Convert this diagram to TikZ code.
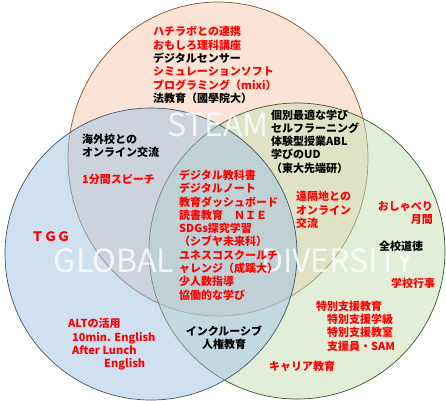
\documentclass[tikz,border=0pt]{standalone}
\usepackage{fontspec}
\setmainfont{Noto Sans CJK JP}
\definecolor{steamfill}{RGB}{247,200,172}
\definecolor{steamline}{RGB}{132,80,40}
\definecolor{globalfill}{RGB}{160,194,228}
\definecolor{globalline}{RGB}{68,84,106}
\definecolor{diverfill}{RGB}{196,224,180}
\definecolor{diverline}{RGB}{56,87,35}
\definecolor{jred}{RGB}{255,0,0}
\newcommand{\rd}[1]{\textcolor{jred}{#1}}

\begin{document}
\begin{tikzpicture}[x=1pt, y=-1pt,
    every node/.style={inner sep=0pt, font=\fontsize{11}{13.3}\selectfont\bfseries},
    mark text/.style={text=white, text opacity=0.8, font=\fontsize{32}{32}\selectfont}]
    \useasboundingbox (0,0) rectangle (446,400);

    % three circles
    \draw [fill=steamfill, fill opacity=0.5, draw=steamline, line width=0.7pt] (218,159) ellipse [x radius=150, y radius=157];
    \draw [fill=diverfill, fill opacity=0.5, draw=diverline, line width=0.7pt] (297,251) circle [radius=148];
    \draw [fill=globalfill, fill opacity=0.5, draw=globalline, line width=0.7pt] (151,254) circle [radius=146];

    % big faint titles
    \node (steam) [mark text] at (218,125) {STEAM};
    \node (global) [mark text] at (114,261) {GLOBAL};
    \node (diversity) [mark text, anchor=east] at (414,261) {DIVERSITY};

    % STEAM only
    \node (hachi) [anchor=west, align=left] at (153,65) {\rd{ハチラボとの連携}\\ \rd{おもしろ理科講座}\\ デジタルセンサー\\ \rd{シミュレーションソフト}\\ \rd{プログラミング（mixi）}\\ 法教育（國學院大）};

    % STEAM and GLOBAL
    \node (kaigai) [anchor=west, align=left] at (82,159.5) {海外校との\\ オンライン交流\\ \\ \rd{1分間スピーチ}};

    % STEAM and DIVERSITY
    \node (kobetsu) [anchor=west, align=left] at (271,141.5) {個別最適な学び\\ セルフラーニング\\ 体験型授業ABL\\ 学びのUD\\ （東大先端研）};
    \node (enkaku) [anchor=west, align=left, text=jred] at (296,210) {遠隔地との\\ オンライン\\ 交流};

    % all three
    \node (digital) [anchor=west, align=left, text=jred] at (179,235) {デジタル教科書\\ デジタルノート\\ 教育ダッシュボード\\ 読書教育　ＮＩＥ\\ SDGs探究学習\\ （シブヤ未来科）\\ ユネスコスクールチ\\ ャレンジ（成蹊大）\\ 少人数指導\\ 協働的な学び};

    % GLOBAL only
    \node (tgg) [anchor=west, text=jred, font=\fontsize{13}{15}\selectfont\bfseries] at (31,237) {ＴＧＧ};
    \node (alt) [anchor=west, align=left, text=jred] at (68,344.5) {ALTの活用\\ \hspace*{4pt}10min. English\\ \hspace*{4pt}After Lunch\\ \hspace*{36pt}English};

    % GLOBAL and DIVERSITY
    \node (incl) [align=center] at (224,338) {インクルーシブ\\ 人権教育};

    % DIVERSITY only
    \node (oshaberi) [anchor=east, align=right, text=jred] at (433,213) {おしゃべり\\ 月間};
    \node (doutoku) [anchor=west] at (379,246) {全校道徳};
    \node (gyouji) [anchor=west, text=jred] at (391,283) {学校行事};
    \node (tokubetsu) [anchor=west, align=left, text=jred] at (316,326) {特別支援教育\\ 　特別支援学級\\ 　特別支援教室\\ 　支援員・SAM};
    \node (career) [anchor=west, text=jred] at (269,366) {キャリア教育};
\end{tikzpicture}
\end{document}
